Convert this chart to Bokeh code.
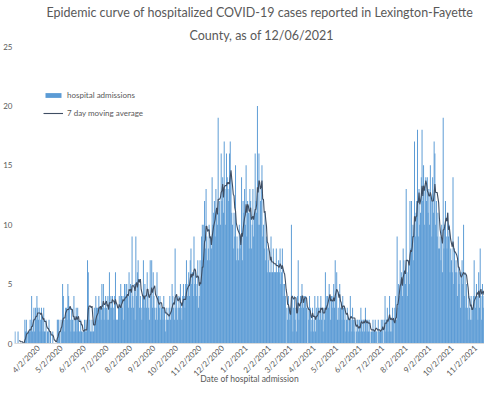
import numpy as np
import pandas as pd
from bokeh.plotting import figure
from bokeh.models import Range1d, FixedTicker, Legend, LegendItem, Title
from bokeh.embed import file_html
from bokeh.resources import INLINE

title_line1 = "Epidemic curve of hospitalized COVID-19 cases reported in Lexington-Fayette"
title_line2 = "County, as of 12/06/2021"
x_title = "Date of hospital admission"
series_bar = "hospital admissions"
series_line = "7 day moving average"

start_date = "2020-03-02"

# daily hospital admissions, month by month (first month starts 3/2/2020)
adm_2020_03 = [1,0,0,0,1,0,0,0,0,0,0,0,0,2,1,2,1,0,1,1,2,1,4,1,2,3,1,3,2,4]
adm_2020_04 = [3,2,3,1,2,3,2,1,3,1,1,2,0,1,1,2,0,1,0,0,1,0,0,0,0,0,2,2,2,1]
adm_2020_05 = [0,2,1,5,4,2,1,3,3,2,5,4,3,2,1,3,2,1,4,1,2,3,1,3,2,1,1,2,1,1,0]
adm_2020_06 = [1,2,1,2,1,7,6,3,2,1,1,2,1,1,3,2,4,3,3,2,4,3,3,2,5,3,5,2,3,4]
adm_2020_07 = [3,2,4,2,6,3,4,3,4,3,2,4,6,2,2,2,3,4,3,5,4,3,4,2,5,4,5,5,4,3,6]
adm_2020_08 = [4,5,3,9,4,3,5,2,9,4,6,7,5,3,4,3,2,4,7,3,5,4,3,6,4,3,2,7,4,7,3]
adm_2020_09 = [6,4,3,2,3,6,2,4,3,4,2,3,3,2,4,3,1,2,3,2,2,3,4,2,3,5,4,3,2,8]
adm_2020_10 = [3,4,2,3,4,3,5,3,2,4,5,4,3,5,7,4,5,6,4,7,8,5,6,4,9,5,6,4,5,7,3]
adm_2020_11 = [4,7,5,9,10,7,10,12,8,13,9,7,8,10,7,9,8,14,10,11,12,9,13,11,10,19,11,12,10,16]
adm_2020_12 = [12,14,11,17,13,10,16,14,13,12,16,17,14,11,10,8,11,9,15,7,9,8,7,10,8,9,14,7,12,11,13]
adm_2021_01 = [10,15,9,12,11,8,13,12,8,10,13,9,11,16,12,11,20,10,16,10,12,13,15,9,10,8,11,7,9,6,8]
adm_2021_02 = [7,6,6,9,6,6,8,6,6,6,8,6,6,7,6,8,5,6,8,4,5,5,4,0,3,2,4,3]
adm_2021_03 = [2,3,10,4,1,3,4,2,3,1,4,7,2,3,4,3,5,4,3,4,4,4,3,0,3,2,4,3,1,2,3]
adm_2021_04 = [1,2,4,1,3,2,4,3,2,3,4,2,3,1,3,2,6,3,4,4,3,5,4,2,4,3,4,5,3,7]
adm_2021_05 = [4,6,2,3,2,5,3,3,2,4,3,2,3,1,2,3,2,1,2,4,2,1,3,2,1,2,0,1,2,2,1]
adm_2021_06 = [2,1,3,2,1,2,2,1,3,2,1,2,1,2,1,0,1,1,2,1,1,2,1,1,0,2,1,1,1,2]
adm_2021_07 = [1,2,0,2,4,1,2,3,1,2,4,1,2,1,3,2,0,3,4,2,9,3,5,4,7,5,6,4,8,7,6]
adm_2021_08 = [5,13,6,4,7,5,12,8,12,9,10,7,17,9,11,12,18,9,13,10,11,14,18,12,15,10,13,14,12,14,11]
adm_2021_09 = [13,10,15,12,9,14,11,17,16,10,12,9,11,8,8,9,7,10,6,19,8,10,12,9,8,11,9,10,6,8]
adm_2021_10 = [7,6,14,5,8,6,7,6,4,9,5,6,3,6,7,5,10,4,6,3,5,3,2,4,3,2,4,2,3,4,7]
adm_2021_11 = [4,3,5,4,2,6,3,8,4,2,5,3,4,2,3,5,4,3,7,4,5,3,4,6,4,5,4,3,5,4]
adm_2021_12 = [5,4,6,3,5,4]

tick_dates = ["2020-03-02","2020-04-02","2020-05-02","2020-06-02","2020-07-02","2020-08-02",
              "2020-09-02","2020-10-02","2020-11-02","2020-12-02","2021-01-02","2021-02-02",
              "2021-03-02","2021-04-02","2021-05-02","2021-06-02","2021-07-02","2021-08-02",
              "2021-09-02","2021-10-02","2021-11-02","2021-12-02"]
tick_labels = ["3/2/2020","4/2/2020","5/2/2020","6/2/2020","7/2/2020","8/2/2020",
               "9/2/2020","10/2/2020","11/2/2020","12/2/2020","1/2/2021","2/2/2021",
               "3/2/2021","4/2/2021","5/2/2021","6/2/2021","7/2/2021","8/2/2021",
               "9/2/2021","10/2/2021","11/2/2021","12/2/2021"]
y_ticks = [0, 5, 10, 15, 20, 25]

admissions = (adm_2020_03 + adm_2020_04 + adm_2020_05 + adm_2020_06 + adm_2020_07 +
              adm_2020_08 + adm_2020_09 + adm_2020_10 + adm_2020_11 + adm_2020_12 +
              adm_2021_01 + adm_2021_02 + adm_2021_03 + adm_2021_04 + adm_2021_05 +
              adm_2021_06 + adm_2021_07 + adm_2021_08 + adm_2021_09 + adm_2021_10 +
              adm_2021_11 + adm_2021_12)

t0 = pd.Timestamp(start_date)
day = np.arange(len(admissions))
ma = pd.Series(admissions, dtype=float).rolling(7).mean()
ma_day = day[6:]
ma_val = ma.values[6:]

tick_pos = [(pd.Timestamp(t) - t0).days for t in tick_dates]
# the first tick sits at the very left edge, where its label cannot fit
shown_labels = [""] + tick_labels[1:]

FONT = "Lato"
GRAY = "#595959"

p = figure(width=484, height=386, output_backend="svg", toolbar_location=None,
           x_range=Range1d(-0.7, 621.7), y_range=Range1d(0, 25),
           min_border_left=0, min_border_right=0, min_border_top=0, min_border_bottom=0)
p.outline_line_color = None
p.xgrid.grid_line_color = None
p.ygrid.grid_line_color = None

bars = p.vbar(x=day, top=admissions, width=1.3, fill_color="#5B9BD5", line_color=None)
line = p.line(ma_day, ma_val, line_color="#3F4E63", line_width=1.1)

p.xaxis.ticker = FixedTicker(ticks=tick_pos)
p.xaxis.major_label_overrides = {pos: lab for pos, lab in zip(tick_pos, shown_labels)}
p.xaxis.major_label_orientation = np.pi / 4
p.xaxis.axis_line_color = "#D9D9D9"
p.xaxis.major_tick_line_color = None
p.xaxis.minor_tick_line_color = None
p.xaxis.major_tick_out = 0
p.xaxis.major_tick_in = 0
p.xaxis.major_label_text_font = FONT
p.xaxis.major_label_text_font_size = "8px"
p.xaxis.major_label_text_color = GRAY
p.xaxis.major_label_standoff = 3
p.xaxis.axis_label = x_title
p.xaxis.axis_label_text_font = FONT
p.xaxis.axis_label_text_font_size = "8.5px"
p.xaxis.axis_label_text_font_style = "normal"
p.xaxis.axis_label_text_color = GRAY
p.xaxis.axis_label_standoff = -11

p.yaxis.ticker = FixedTicker(ticks=y_ticks)
p.yaxis.axis_line_color = None
p.yaxis.major_tick_line_color = None
p.yaxis.minor_tick_line_color = None
p.yaxis.major_tick_out = 0
p.yaxis.major_tick_in = 0
p.yaxis.major_label_text_font = FONT
p.yaxis.major_label_text_font_size = "8px"
p.yaxis.major_label_text_color = GRAY
p.yaxis.major_label_standoff = 2

p.add_layout(Title(text=title_line2, align="left", offset=175, standoff=8, text_font=FONT,
                   text_font_size="12.5px", text_font_style="normal", text_color=GRAY), "above")
p.add_layout(Title(text=title_line1, align="left", offset=32, standoff=4, text_font=FONT,
                   text_font_size="12.5px", text_font_style="normal", text_color=GRAY), "above")

legend = Legend(items=[LegendItem(label=series_bar, renderers=[bars]),
                       LegendItem(label=series_line, renderers=[line])],
                location=(29, 225), padding=0, margin=0, spacing=8,
                glyph_width=20, glyph_height=6, label_height=8, label_standoff=4,
                label_text_font=FONT, label_text_font_size="8px", label_text_color=GRAY,
                border_line_color=None, background_fill_alpha=0)
p.add_layout(legend)

open("out.html", "w").write(file_html(p, INLINE))
